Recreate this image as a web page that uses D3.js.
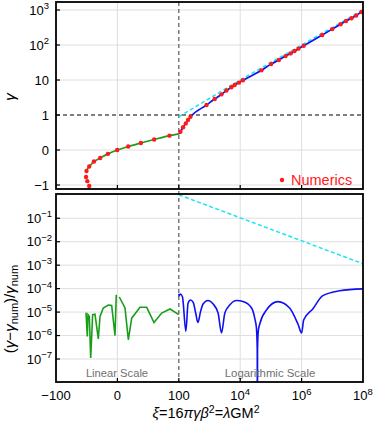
<!DOCTYPE html>
<html><head><meta charset="utf-8">
<script src="https://cdn.jsdelivr.net/npm/d3@7"></script>
<style>body{margin:0;background:#fff} svg{display:block;font-family:"Liberation Sans",Arial,sans-serif}</style>
</head><body><svg id="c" width="374" height="424"></svg>
<script>
// ---------- DATA ----------
const xTicks = [-100, 0, 100, 1e4, 1e6, 1e8];
const xTickLabels = ["\u2212100", "0", "100", "10|4", "10|6", "10|8"];
const topYTicks = [-1, 0, 1, 10, 100, 1000];
const topYTickLabels = ["\u22121", "0", "1", "10", "10|2", "10|3"];
const botYTicks = [1e-1, 1e-2, 1e-3, 1e-4, 1e-5, 1e-6, 1e-7];
const botYTickLabels = ["10|\u22121", "10|\u22122", "10|\u22123", "10|\u22124", "10|\u22125", "10|\u22126", "10|\u22127"];

// top panel: gamma vs xi
const greenTopXi    = [-50.3, -48.5, -45.9, -42.0, -38.2, -28.0, -15.4, 0, 17.6, 38.2, 59.9, 84.8, 100];
const greenTopGamma = [-0.60, -0.53, -0.47, -0.40, -0.33, -0.23, -0.11, 0, 0.10, 0.20, 0.30, 0.41, 0.46];

const blueTopXi    = [100, 113, 138, 169, 200, 240, 800, 1480, 2450, 3550, 5130, 6600, 9100, 12300, 49000, 102000, 182000, 300000, 440000, 590000, 790000, 1170000, 4700000, 1e7, 1.86e7, 2.8e7, 4.2e7, 6.0e7, 8.9e7, 1e8];
const blueTopGamma = [0.46, 0.52, 0.65, 0.76, 0.86, 0.95, 1.93, 2.87, 3.9, 5.0, 6.2, 7.2, 8.4, 9.8, 18.9, 28.6, 37.3, 48.3, 57.6, 67.3, 78.6, 95.6, 193, 285, 392, 486, 581, 699, 877, 935];

const cyanTopXi    = [100, 1e4, 1e8];
const cyanTopGamma = [0.95, 10, 1000];

const numXi    = [-45.9, -49.0, -51.1, -50.3, -45.9, -38.2, -28.0, -15.4, -0.3, 17.6, 38.2, 59.9, 84.8,
                  113, 138, 169, 200, 240, 800, 1480, 2450, 3550, 5130, 6600, 9100, 12300, 49000, 102000, 182000,
                  300000, 440000, 590000, 790000, 1170000, 4700000, 1e7, 1.86e7, 2.8e7, 4.2e7, 6.0e7, 8.9e7];
const numGamma = [-1.03, -0.89, -0.77, -0.60, -0.47, -0.33, -0.23, -0.11, 0, 0.10, 0.20, 0.30, 0.41,
                  0.52, 0.65, 0.76, 0.86, 0.95, 1.93, 2.87, 3.9, 5.0, 6.2, 7.2, 8.4, 9.8, 18.9, 28.6, 37.3,
                  48.3, 57.6, 67.3, 78.6, 95.6, 193, 285, 392, 486, 581, 699, 877];

// bottom panel: relative error
const greenErrXi1  = [-51.1, -49.0, -47.9, -45.7, -43.5, -40.3, -36.5, -31.1, -28.3, -23.0, -14.8, -9.3, -3.9, -1.8];
const greenErr1    = [9.5e-6, 9.1e-7, 7.8e-6, 6.5e-6, 1.1e-7, 7.8e-6, 8.1e-6, 7.2e-7, 6.5e-6, 1.5e-5, 2.0e-5, 1.9e-5, 1.0e-6, 5.5e-5];
const greenErrXi2  = [3.1, 12.4, 17.8, 23.3, 36.8, 47.7, 59.6, 72.1, 85.7, 100];
const greenErr2    = [4.4e-5, 1.5e-5, 6.6e-7, 5.5e-6, 1.6e-5, 1.6e-5, 3.6e-6, 9.1e-6, 1.35e-5, 7.8e-6];

const blueErrXi = [100, 102, 114, 132, 170, 200, 240, 295, 355, 417, 513, 617, 891, 1318, 1905, 2455, 3162, 4571, 7586, 12300,
                   23440, 30200, 33900, 35900, 36300, 36700, 38900, 43650, 72440, 169800, 407400, 776000, 1000000, 1175000,
                   2344000, 4786000, 17380000, 1e8];
const blueErr   = [6.0e-5, 4.9e-5, 5.9e-5, 4.4e-5, 1.5e-6, 2.4e-5, 3.3e-5, 2.6e-5, 9.1e-6, 3.6e-6, 1.07e-5, 2.2e-5, 3.1e-5, 2.2e-5, 9.1e-6, 1.3e-6, 9.1e-6, 2.0e-5, 3.1e-5, 2.8e-5,
                   1.5e-5, 5.0e-6, 2.0e-6, 2.5e-7, 3e-10, 2.5e-7, 1.6e-6, 3.2e-6, 1.26e-5, 2.8e-5, 1.5e-5, 2.9e-6, 1.3e-6, 4.7e-6,
                   1.4e-5, 4.9e-5, 8.1e-5, 9.8e-5];

const cyanErrXi = [100, 1e8];
const cyanErr   = [1.0, 1.15e-3];

// ---------- LAYOUT ----------
const L = 56, R = 363, topT = 2, topB = 189, botT = 194, botB = 382;
const svg = d3.select("#c");

function xt(v) { return v <= 100 ? v : 100 + 50 * (Math.log10(v) - 2); }
const xs = d3.scaleLinear().domain([-100, 400]).range([L, R]);
const X = v => xs(xt(v));
function yt(v) { return v <= 1 ? v : 1 + Math.log10(v); }
const ysTop = d3.scaleLinear().domain([-1.114, 4.229]).range([topB, topT]);
const YT = v => ysTop(yt(v));
const ysBot = d3.scaleLog().domain([Math.pow(10, -7.98), Math.pow(10, 0.034)]).range([botB, botT]);

const defs = svg.append("defs");
defs.append("clipPath").attr("id", "cpTop").append("rect").attr("x", L).attr("y", topT).attr("width", R - L).attr("height", topB - topT);
defs.append("clipPath").attr("id", "cpBot").append("rect").attr("x", L).attr("y", botT).attr("width", R - L).attr("height", botB - botT);

const gridColor = "#dedede";
const zip = (a, b) => a.map((v, i) => [v, b[i]]);

function supLabel(sel, lab, size, supSize) {
  const parts = lab.split("|");
  sel.append("tspan").text(parts[0]);
  if (parts.length > 1) sel.append("tspan").attr("font-size", supSize).attr("dy", -5.5).text(parts[1]);
}

// ---------- TOP PANEL grid ----------
const gT = svg.append("g");
const gridXVals = [0, 1e4, 1e6];
gT.selectAll(".gx").data(gridXVals).join("line")
  .attr("x1", d => X(d)).attr("x2", d => X(d)).attr("y1", topT).attr("y2", topB)
  .attr("stroke", gridColor).attr("stroke-width", 1);
gT.selectAll(".gy").data(topYTicks.filter(d => d !== 1)).join("line")
  .attr("x1", L).attr("x2", R).attr("y1", d => YT(d)).attr("y2", d => YT(d))
  .attr("stroke", gridColor).attr("stroke-width", 1);

// ---------- BOTTOM PANEL grid ----------
const gB = svg.append("g");
gB.selectAll(".gx").data(gridXVals).join("line")
  .attr("x1", d => X(d)).attr("x2", d => X(d)).attr("y1", botT).attr("y2", botB)
  .attr("stroke", gridColor).attr("stroke-width", 1);
gB.selectAll(".gy").data(botYTicks).join("line")
  .attr("x1", L).attr("x2", R).attr("y1", d => ysBot(d)).attr("y2", d => ysBot(d))
  .attr("stroke", gridColor).attr("stroke-width", 1);

// dashed reference lines
svg.append("line").attr("x1", L).attr("x2", R).attr("y1", YT(1)).attr("y2", YT(1))
  .attr("stroke", "#555").attr("stroke-width", 1.3).attr("stroke-dasharray", "4,3");
svg.append("line").attr("x1", X(100)).attr("x2", X(100)).attr("y1", topT).attr("y2", botB)
  .attr("stroke", "#666").attr("stroke-width", 1.3).attr("stroke-dasharray", "4,3");

// top curves
const cT = svg.append("g").attr("clip-path", "url(#cpTop)");
const lineTop = d3.line().x(d => X(d[0])).y(d => YT(d[1]));
cT.append("path").datum(zip(cyanTopXi, cyanTopGamma)).attr("d", lineTop)
  .attr("fill", "none").attr("stroke", "#19e6f0").attr("stroke-width", 1.5).attr("stroke-dasharray", "4,2.5");
cT.append("path").datum(zip(greenTopXi, greenTopGamma)).attr("d", lineTop.curve(d3.curveCatmullRom))
  .attr("fill", "none").attr("stroke", "#1a9e1a").attr("stroke-width", 1.7);
cT.append("path").datum(zip(blueTopXi, blueTopGamma)).attr("d", d3.line().x(d => X(d[0])).y(d => YT(d[1])).curve(d3.curveMonotoneX))
  .attr("fill", "none").attr("stroke", "#1010f0").attr("stroke-width", 1.7);
cT.selectAll(".dot").data(zip(numXi, numGamma)).join("circle")
  .attr("cx", d => X(d[0])).attr("cy", d => YT(d[1])).attr("r", 2.2).attr("fill", "#ff1a1a");

// legend
svg.append("circle").attr("cx", 282).attr("cy", 180).attr("r", 2.2).attr("fill", "#ff1a1a");
svg.append("text").attr("x", 291).attr("y", 185).attr("font-size", 14.5).attr("fill", "#ff1a1a").text("Numerics");

// bottom curves
const cB = svg.append("g").attr("clip-path", "url(#cpBot)");
const lineBot = d3.line().x(d => X(d[0])).y(d => ysBot(d[1]));
cB.append("path").datum(zip(cyanErrXi, cyanErr)).attr("d", lineBot)
  .attr("fill", "none").attr("stroke", "#19e6f0").attr("stroke-width", 1.5).attr("stroke-dasharray", "4,2.5");
cB.append("path").datum(zip(greenErrXi1, greenErr1)).attr("d", lineBot)
  .attr("fill", "none").attr("stroke", "#1a9e1a").attr("stroke-width", 1.6);
cB.append("path").datum(zip(greenErrXi2, greenErr2)).attr("d", lineBot)
  .attr("fill", "none").attr("stroke", "#1a9e1a").attr("stroke-width", 1.6);
cB.append("path").datum(zip(blueErrXi, blueErr)).attr("d", d3.line().x(d => X(d[0])).y(d => ysBot(d[1])).curve(d3.curveMonotoneX))
  .attr("fill", "none").attr("stroke", "#1010f0").attr("stroke-width", 1.6);

// scale annotations
svg.append("text").attr("x", 117).attr("y", 377).attr("text-anchor", "middle").attr("font-size", 11.2).attr("fill", "#707070").text("Linear Scale");
svg.append("text").attr("x", 270).attr("y", 377).attr("text-anchor", "middle").attr("font-size", 11.4).attr("fill", "#707070").text("Logarithmic Scale");

// ticks (inward)
function xTickMarks(yb) {
  svg.append("g").selectAll("line").data(xTicks.slice(1, -1)).join("line")
    .attr("x1", d => X(d)).attr("x2", d => X(d)).attr("y1", yb).attr("y2", yb - 4)
    .attr("stroke", "#000").attr("stroke-width", 1.2);
}
xTickMarks(topB); xTickMarks(botB);
svg.append("g").selectAll("line").data(topYTicks).join("line")
  .attr("x1", L).attr("x2", L + 4).attr("y1", d => YT(d)).attr("y2", d => YT(d)).attr("stroke", "#000").attr("stroke-width", 1.2);
svg.append("g").selectAll("line").data(botYTicks).join("line")
  .attr("x1", L).attr("x2", L + 4).attr("y1", d => ysBot(d)).attr("y2", d => ysBot(d)).attr("stroke", "#000").attr("stroke-width", 1.2);

// frames
svg.append("rect").attr("x", L).attr("y", topT).attr("width", R - L).attr("height", topB - topT)
  .attr("fill", "none").attr("stroke", "#000").attr("stroke-width", 1.8);
svg.append("rect").attr("x", L).attr("y", botT).attr("width", R - L).attr("height", botB - botT)
  .attr("fill", "none").attr("stroke", "#000").attr("stroke-width", 1.8);

// tick labels
xTicks.forEach((t, i) => {
  const tx = svg.append("text").attr("x", X(t)).attr("y", 400).attr("text-anchor", "middle").attr("font-size", 13).attr("fill", "#000");
  supLabel(tx, xTickLabels[i], 13, 9.5);
});
topYTicks.forEach((t, i) => {
  const tx = svg.append("text").attr("x", 49).attr("y", YT(t) + 4.7).attr("text-anchor", "end").attr("font-size", 13).attr("fill", "#000");
  supLabel(tx, topYTickLabels[i], 13, 9.5);
});
botYTicks.forEach((t, i) => {
  const tx = svg.append("text").attr("x", 52).attr("y", ysBot(t) + 4.7).attr("text-anchor", "end").attr("font-size", 13).attr("fill", "#000");
  supLabel(tx, botYTickLabels[i], 13, 9.5);
});

// axis labels
svg.append("text").attr("transform", "translate(15,97) rotate(-90)").attr("text-anchor", "middle")
  .attr("font-size", 15).attr("font-style", "italic").text("\u03b3");

const yl = svg.append("text").attr("transform", "translate(15,309) rotate(-90)").attr("text-anchor", "middle").attr("font-size", 15);
yl.append("tspan").text("(");
yl.append("tspan").attr("font-style", "italic").text("\u03b3");
yl.append("tspan").text("\u2212");
yl.append("tspan").attr("font-style", "italic").text("\u03b3");
yl.append("tspan").attr("font-size", 11).attr("dy", 3).text("num");
yl.append("tspan").attr("dy", -3).text(")/");
yl.append("tspan").attr("font-style", "italic").text("\u03b3");
yl.append("tspan").attr("font-size", 11).attr("dy", 3).text("num");

const xl = svg.append("text").attr("x", 206).attr("y", 418).attr("text-anchor", "middle").attr("font-size", 14.5);
xl.append("tspan").attr("font-style", "italic").text("\u03be");
xl.append("tspan").text("=16");
xl.append("tspan").attr("font-style", "italic").text("\u03c0\u03b3\u03b2");
xl.append("tspan").attr("font-size", 10.5).attr("dy", -5).text("2");
xl.append("tspan").attr("dy", 5).text("=");
xl.append("tspan").attr("font-style", "italic").text("\u03bb");
xl.append("tspan").text("GM");
xl.append("tspan").attr("font-size", 10.5).attr("dy", -5).text("2");
</script>
</body></html>
